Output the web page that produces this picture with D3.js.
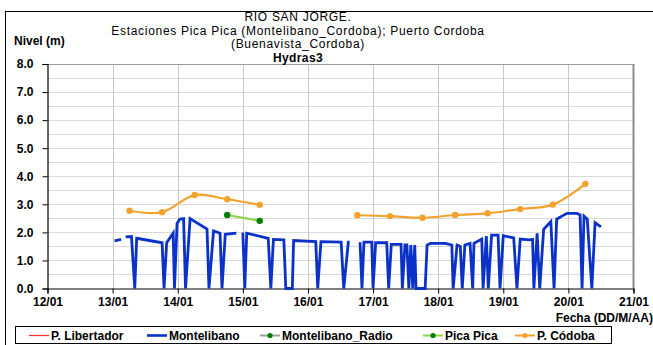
<!DOCTYPE html>
<html>
<head>
<meta charset="utf-8">
<script src="https://cdn.jsdelivr.net/npm/d3@7"></script>
<style>
  html, body { margin: 0; padding: 0; background: #fff; }
  svg { display: block; font-family: "Liberation Sans", Arial, sans-serif; }
</style>
</head>
<body>
<svg id="chart" width="653" height="345"></svg>
<script>
// Days are decimal days of January; levels in metres. null breaks the line.
const dayTicks = [12, 13, 14, 15, 16, 17, 18, 19, 20, 21];
const levelTicks = [0, 1, 2, 3, 4, 5, 6, 7, 8];
const levelGrid = [0.5, 1, 1.5, 2, 2.5, 3, 3.5, 4, 4.5, 5, 5.5, 6, 6.5, 7, 7.5];

const montelibanoDays = [
  13.03, 13.13, null, 13.20, 13.29, 13.34, 13.37, 13.76, 13.79, 13.83, 13.93, 13.95,
  13.99, 14.03, 14.09, 14.12, 14.19, 14.45, 14.48, 14.55, 14.65, 14.68, 14.73, 14.90,
  null, 15.00, 15.03, 15.06, 15.39, 15.43, 15.47, 15.63, 15.66, 15.76, 15.78, 16.12,
  16.15, 16.20, 16.51, 16.55, 16.62, 16.64, null, 16.80, 16.83, 16.86, 16.98, 17.00,
  17.04, 17.21, 17.24, 17.28, 17.43, 17.45, 17.49, 17.52, 17.55, 17.58, 17.61, 17.64,
  17.66, 17.80, 17.83, 17.88, 18.11, 18.21, 18.23, 18.29, 18.34, 18.37, 18.41, 18.49,
  18.53, 18.55, 18.67, 18.69, 18.74, 18.77, 18.82, 18.92, 18.95, 19.00, 19.16, 19.21,
  19.26, 19.40, 19.45, 19.47, 19.52, 19.56, 19.62, 19.73, 19.78, 19.82, 19.90, 19.98,
  20.13, 20.18, 20.21, 20.24, 20.29, 20.36, 20.41, 20.50
];
const montelibanoLevel = [
  1.70, 1.75, null, 1.84, 1.85, 0, 1.79, 1.63, 0, 1.63, 1.97, 0,
  2.32, 2.47, 2.49, 0, 2.49, 2.12, 0, 2.05, 1.97, 0, 1.93, 1.97,
  null, 1.99, 0, 1.97, 1.79, 0, 1.75, 1.73, 0, 0, 1.71, 1.67,
  0, 1.67, 1.65, 0, 1.65, 1.65, null, 1.65, 0, 1.65, 1.65, 0,
  1.63, 1.63, 0, 1.57, 1.57, 0, 1.55, 1.55, 0, 1.55, 0, 1.55,
  0, 0, 1.55, 1.61, 1.61, 1.55, 0, 1.55, 1.50, 0, 1.55, 1.61,
  0, 1.61, 1.76, 0, 1.87, 0, 1.90, 1.90, 0, 1.88, 1.80, 0,
  1.76, 1.73, 1.75, 0, 1.97, 0, 2.11, 2.38, 0, 2.47, 2.58, 2.68,
  2.68, 2.62, 0, 2.58, 2.47, 0, 2.35, 2.20
];

const picaPicaDays = [14.76, 15.26];
const picaPicaLevel = [2.62, 2.41];

const cordobaDays = [13.26, 13.76, 14.26, 14.76, 15.26, null,
                     16.76, 17.26, 17.76, 18.26, 18.76, 19.26, 19.76, 20.26];
const cordobaLevel = [2.77, 2.72, 3.33, 3.18, 2.98, null,
                      2.61, 2.58, 2.52, 2.62, 2.68, 2.83, 2.99, 3.73];

const libertadorDays = [], libertadorLevel = [];
const radioDays = [], radioLevel = [];

const legendItems = [
  { name: "P. Libertador", line: "#ff2a2a", marker: null, width: 1.2 },
  { name: "Montelibano", line: "#0a32c8", marker: null, width: 2.6 },
  { name: "Montelibano_Radio", line: "#a0a0a0", marker: "#008000", width: 2 },
  { name: "Pica Pica", line: "#92d050", marker: "#008000", width: 2 },
  { name: "P. Códoba", line: "#f4a12e", marker: "#f4a12e", width: 2 }
];

const zip = (xs, ys) => xs.map((d, i) => ({ day: d, level: ys[i] }));

const svg = d3.select("#chart");
const plot = { left: 47.5, right: 633.5, top: 64, bottom: 288.5 };

const x = d3.scaleLinear().domain([12, 21]).range([plot.left, plot.right]);
const y = d3.scaleLinear().domain([0, 8]).range([plot.bottom, plot.top]);

// outer frame
svg.append("rect").attr("x", 5.5).attr("y", 11.5).attr("width", 700).attr("height", 400)
  .attr("fill", "none").attr("stroke", "#000").attr("stroke-width", 1);

// grid
const grid = svg.append("g");
grid.selectAll("line.h").data(levelGrid).join("line")
  .attr("x1", plot.left).attr("x2", plot.right)
  .attr("y1", d => Math.round(y(d)) + 0.5).attr("y2", d => Math.round(y(d)) + 0.5)
  .attr("stroke", "#d9d9d9").attr("stroke-width", 1);
grid.selectAll("line.v").data(dayTicks.slice(1, -1)).join("line")
  .attr("x1", d => Math.round(x(d)) + 0.5).attr("x2", d => Math.round(x(d)) + 0.5)
  .attr("y1", plot.top).attr("y2", plot.bottom)
  .attr("stroke", "#c8c8c8").attr("stroke-width", 1);
// top and right edges of the plot area
grid.append("line").attr("x1", plot.left).attr("x2", plot.right)
  .attr("y1", plot.top + 0.5).attr("y2", plot.top + 0.5)
  .attr("stroke", "#9a9a9a").attr("stroke-width", 1);
grid.append("line").attr("x1", plot.right).attr("x2", plot.right)
  .attr("y1", plot.top).attr("y2", plot.bottom)
  .attr("stroke", "#8a8a8a").attr("stroke-width", 2);

// axes
const xAxis = d3.axisBottom(x).tickValues(dayTicks)
  .tickFormat(d => d3.format("02d")(d) + "/01").tickSizeOuter(0).tickSize(5).tickPadding(4);
const yAxis = d3.axisLeft(y).tickValues(levelTicks)
  .tickFormat(d3.format(".1f")).tickSizeOuter(0).tickSize(5).tickPadding(9);

const gx = svg.append("g").attr("transform", `translate(0,${plot.bottom})`).call(xAxis);
const gy = svg.append("g").attr("transform", `translate(${plot.left},0)`).call(yAxis);
[gx, gy].forEach(g => {
  g.select(".domain").attr("stroke", "#000").attr("stroke-width", 1.2);
  g.selectAll(".tick line").attr("stroke", "#000");
  g.selectAll(".tick text").attr("fill", "#000")
    .style("font-family", '"Liberation Sans", Arial, sans-serif')
    .style("font-size", "12px").style("font-weight", "bold");
});

// series
const lineGen = d3.line()
  .defined(d => d.day !== null && d.level !== null)
  .x(d => x(d.day)).y(d => y(d.level));

const series = svg.append("g");
series.append("path").datum(zip(libertadorDays, libertadorLevel))
  .attr("d", lineGen).attr("fill", "none").attr("stroke", "#ff2a2a");
series.append("path").datum(zip(radioDays, radioLevel))
  .attr("d", lineGen).attr("fill", "none").attr("stroke", "#a0a0a0");

series.append("path").datum(zip(montelibanoDays, montelibanoLevel))
  .attr("d", lineGen).attr("fill", "none")
  .attr("stroke", "#0a32c8").attr("stroke-width", 2.8).attr("stroke-linejoin", "miter");

const smooth = d3.line()
  .defined(d => d.day !== null && d.level !== null)
  .x(d => x(d.day)).y(d => y(d.level))
  .curve(d3.curveCatmullRom.alpha(0.5));

const cordoba = zip(cordobaDays, cordobaLevel);
series.append("path").datum(cordoba)
  .attr("d", smooth).attr("fill", "none")
  .attr("stroke", "#f4a12e").attr("stroke-width", 2.2);
series.selectAll("circle.cordoba").data(cordoba.filter(d => d.day !== null)).join("circle")
  .attr("cx", d => x(d.day)).attr("cy", d => y(d.level)).attr("r", 3.2)
  .attr("fill", "#f4a12e");

const pica = zip(picaPicaDays, picaPicaLevel);
series.append("path").datum(pica)
  .attr("d", lineGen).attr("fill", "none")
  .attr("stroke", "#92d050").attr("stroke-width", 2.2);
series.selectAll("circle.pica").data(pica).join("circle")
  .attr("cx", d => x(d.day)).attr("cy", d => y(d.level)).attr("r", 3.2)
  .attr("fill", "#008000");

// titles
const title = svg.append("g").attr("text-anchor", "middle").attr("fill", "#000")
  .style("font-size", "12px").style("letter-spacing", "0.7px");
title.append("text").attr("x", 298).attr("y", 21).text("RIO SAN JORGE.");
title.append("text").attr("x", 298).attr("y", 34.5)
  .text("Estaciones Pica Pica (Montelibano_Cordoba); Puerto Cordoba");
title.append("text").attr("x", 298).attr("y", 48).text("(Buenavista_Cordoba)");
title.append("text").attr("x", 298).attr("y", 61.5).style("font-weight", "bold")
  .style("letter-spacing", "0.4px").text("Hydras3");

svg.append("text").attr("x", 14).attr("y", 45).style("font-size", "12px")
  .style("font-weight", "bold").text("Nivel (m)");
svg.append("text").attr("x", 653).attr("y", 322).attr("text-anchor", "end")
  .style("font-size", "12px").style("font-weight", "bold").text("Fecha (DD/M/AA)");

// legend
const legend = svg.append("g");
legend.append("rect").attr("x", 15.5).attr("y", 326.5).attr("width", 596).attr("height", 17)
  .attr("fill", "#fff").attr("stroke", "#000");
const legendX = [29, 147, 260, 423, 515];
const legendY = 335.5;
legendItems.forEach((item, i) => {
  const g = legend.append("g").attr("transform", `translate(${legendX[i]},${legendY})`);
  g.append("line").attr("x1", 0).attr("x2", 20).attr("stroke", item.line)
    .attr("stroke-width", item.width);
  if (item.marker) g.append("circle").attr("cx", 10).attr("r", 2.6).attr("fill", item.marker);
  g.append("text").attr("x", 22).attr("dy", "0.35em")
    .style("font-size", "12px").style("font-weight", "bold").text(item.name);
});
</script>
</body>
</html>
